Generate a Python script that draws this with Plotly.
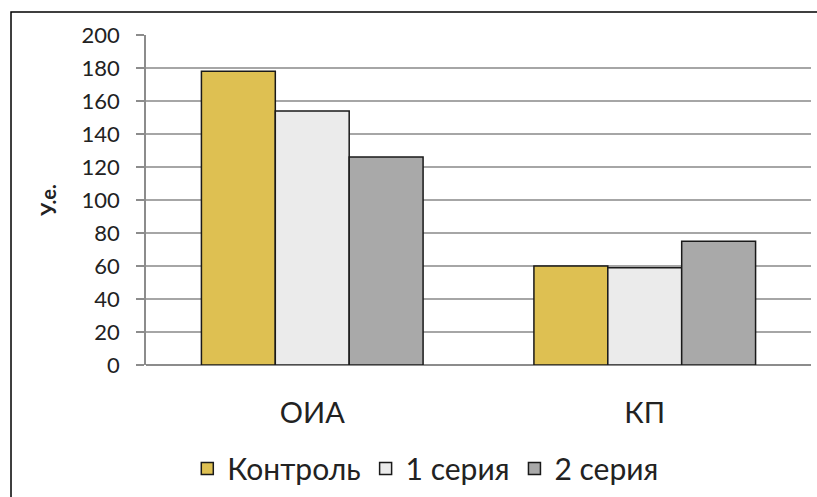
import plotly.graph_objects as go

categories = ["ОИА", "КП"]
series_names = ["Контроль", "1 серия", "2 серия"]
control = [178, 60]
series1 = [154, 59]
series2 = [126, 75]
y_ticks = [0, 20, 40, 60, 80, 100, 120, 140, 160, 180, 200]

colors = ["#DEC052", "#EBEBEB", "#A9A9A9"]
values = [control, series1, series2]

FONT = "Lato, Carlito, Open Sans, sans-serif"

fig = go.Figure()
for name, vals, col in zip(series_names, values, colors):
    fig.add_trace(go.Bar(
        x=categories, y=vals, name=name,
        marker=dict(color=col, line=dict(color="#1a1a1a", width=1.5)),
    ))

# outer chart frame (only top and left edges fall inside the page)
fig.add_shape(type="rect", xref="paper", yref="paper",
              x0=-0.203, x1=1.1, y0=-0.6, y1=1.0697,
              line=dict(color="black", width=1.5), fillcolor="rgba(0,0,0,0)",
              layer="below")

fig.update_layout(
    width=817, height=497,
    margin=dict(l=146, r=6, t=35, b=132, autoexpand=False),
    paper_bgcolor="white", plot_bgcolor="white",
    barmode="group", bargap=1/3, bargroupgap=0,
    font=dict(family=FONT, color="#222"),
    showlegend=True,
    legend=dict(orientation="h", x=0.42, xanchor="center", y=-0.235, yanchor="top",
                font=dict(size=30, family=FONT), itemwidth=30,
                traceorder="normal", tracegroupgap=0),
    xaxis=dict(showline=False, ticks="", tickfont=dict(size=29, family=FONT),
               ticklabelstandoff=28),
    yaxis=dict(range=[0, 200], tickvals=y_ticks, showgrid=True,
               gridcolor="#A6A6A6", gridwidth=1.5,
               showline=True, linecolor="#8C8C8C", linewidth=1.5,
               ticks="outside", ticklen=8, tickcolor="#8C8C8C", tickwidth=1.5,
               tickfont=dict(size=22, family=FONT), ticklabelstandoff=12,
               zeroline=True, zerolinecolor="#8C8C8C", zerolinewidth=1.5,
               title=dict(text="<b>У.е.</b>", font=dict(size=20, family=FONT),
                          standoff=20)),
)

fig.write_html("out.html")
